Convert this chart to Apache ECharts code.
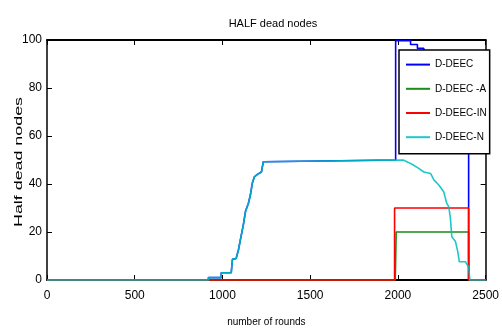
<!DOCTYPE html>
<html>
<head>
<meta charset="utf-8">
<style>
  html, body { margin: 0; padding: 0; background: #fff; }
  #chart { width: 502px; height: 332px; }
</style>
<script src="https://cdn.jsdelivr.net/npm/echarts@6/dist/echarts.min.js"></script>
</head>
<body>
<div id="chart"></div>
<script>
// values
const seriesNames = ['D-DEEC', 'D-DEEC -A', 'D-DEEC-IN', 'D-DEEC-N']
const seriesColors = ['#0000ff', '#1a8c1a', '#ff0000', '#00bfbf']
const xTicks = [0, 500, 1000, 1500, 2000, 2500]
const yTicks = [0, 20, 40, 60, 80, 100]

const deecRounds = [0, 920, 920, 993, 993, 1050, 1057, 1078, 1091, 1102, 1119, 1131, 1148, 1159, 1170, 1182, 1199, 1222, 1233, 1244, 1987, 1987, 2072, 2072, 2111, 2111, 2148, 2148, 2240, 2240, 2330, 2330, 2403, 2403, 2500]
const deecValues = [0, 0, 1, 1, 3, 3, 8.6, 9, 12.5, 16.7, 23, 28.5, 32, 35.4, 40.3, 43, 44, 45, 49.3, 50, 50, 99.7, 99.7, 98.1, 98.1, 96.5, 96.5, 95, 95, 93, 93, 91, 91, 0, 0]

const deecARounds = [0, 1985, 1990, 2403, 2403, 2500]
const deecAValues = [0, 0, 20, 20, 0, 0]

const deecInRounds = [0, 1981, 1981, 2403, 2403, 2500]
const deecInValues = [0, 0, 30, 30, 0, 0]

const deecNRounds = [0, 920, 920, 993, 993, 1050, 1057, 1078, 1091, 1102, 1119, 1131, 1148, 1159, 1170, 1182, 1199, 1222, 1233, 1244, 2030, 2060, 2085, 2114, 2148, 2186, 2205, 2233, 2261, 2278, 2290, 2299, 2307, 2328, 2341, 2350, 2384, 2403, 2410, 2500]
const deecNValues = [0, 0, 1, 1, 3, 3, 8.6, 9, 12.5, 16.7, 23, 28.5, 32, 35.4, 40.3, 43, 44, 45, 49.3, 50, 50, 49, 48, 46.7, 45, 44.4, 41.7, 39.6, 36.8, 32, 30.5, 25.8, 18, 16, 11.8, 7.6, 7.6, 5.5, 0, 0]

const roundsList = [deecRounds, deecARounds, deecInRounds, deecNRounds]
const valuesList = [deecValues, deecAValues, deecInValues, deecNValues]

const font = '"Liberation Sans", Arial, sans-serif'

const chart = echarts.init(document.getElementById('chart'))

const axisCommon = {
  z: 0,
  axisLine: { show: true, onZero: false, lineStyle: { color: '#000', width: 1.5 } },
  axisTick: { show: true, inside: true, length: 5, lineStyle: { color: '#000', width: 1 } },
  splitLine: { show: false },
}

const option = {
  animation: false,
  backgroundColor: '#fff',
  title: {
    text: 'HALF dead nodes',
    left: 268,
    textAlign: 'center',
    top: 13,
    textStyle: { fontFamily: font, fontSize: 11, fontWeight: 'normal', color: '#000' },
  },
  grid: { left: 47, right: 15, top: 40, bottom: 52 },
  legend: {
    z: 20,
    orient: 'vertical',
    left: 399,
    top: 50,
    data: seriesNames,
    itemWidth: 24,
    itemHeight: 14,
    itemGap: 13,
    padding: [9, 3, 11, 6],
    backgroundColor: '#fff',
    borderColor: '#000',
    borderWidth: 1.5,
    itemStyle: { opacity: 0 },
    textStyle: { fontFamily: font, fontSize: 10, color: '#000' },
  },
  xAxis: [
    {
      ...axisCommon,
      type: 'value',
      position: 'bottom',
      min: xTicks[0],
      max: xTicks[xTicks.length - 1],
      interval: xTicks[1] - xTicks[0],
      axisLine: { show: true, onZero: false, lineStyle: { color: '#000', width: 2 } },
      axisLabel: { margin: 10, color: '#000', fontFamily: font, fontSize: 12, formatter: (v) => String(v) },
      name: 'number of rounds',
      nameLocation: 'middle',
      nameGap: 37,
      nameTextStyle: { fontFamily: font, fontSize: 10, color: '#000' },
    },
    {
      ...axisCommon,
      type: 'value',
      position: 'top',
      min: xTicks[0],
      max: xTicks[xTicks.length - 1],
      interval: xTicks[1] - xTicks[0],
      axisLine: { show: true, onZero: false, lineStyle: { color: '#000', width: 2 } },
      axisLabel: { show: false },
    },
  ],
  yAxis: [
    {
      ...axisCommon,
      type: 'value',
      position: 'left',
      min: yTicks[0],
      max: yTicks[yTicks.length - 1],
      interval: yTicks[1] - yTicks[0],
      axisLabel: { margin: 5, color: '#000', fontFamily: font, fontSize: 12 },
    },
    {
      ...axisCommon,
      type: 'value',
      position: 'right',
      min: yTicks[0],
      max: yTicks[yTicks.length - 1],
      interval: yTicks[1] - yTicks[0],
      axisLabel: { show: false },
    },
  ],
  // y axis name drawn as text stretched along its length like the original
  graphic: [
    {
      type: 'text',
      x: 19.5,
      y: 162,
      rotation: Math.PI / 2,
      scaleX: 1.7,
      style: {
        text: 'Half dead nodes',
        fontFamily: font,
        fontSize: 10.5,
        fill: '#000',
        align: 'center',
        verticalAlign: 'middle',
      },
    },
  ],
  series: seriesNames.map((name, i) => ({
    name,
    type: 'line',
    xAxisIndex: 0,
    yAxisIndex: 0,
    z: 5 + i,
    symbol: 'none',
    clip: false,
    color: seriesColors[i],
    lineStyle: { width: 1.6, color: seriesColors[i], opacity: i === 3 ? 0.88 : 1 },
    data: roundsList[i].map((r, k) => [r, valuesList[i][k]]),
  })),
}

chart.setOption(option)
</script>
</body>
</html>
